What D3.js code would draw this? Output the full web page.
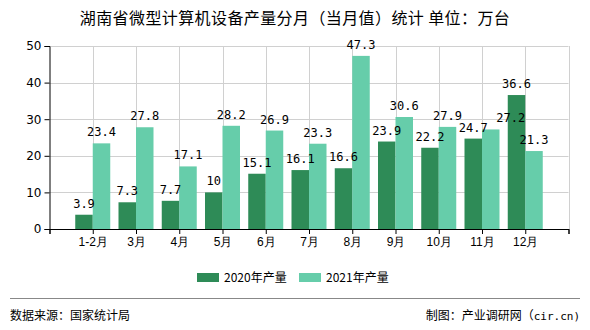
<!DOCTYPE html>
<html><head><meta charset="utf-8">
<script src="https://cdn.jsdelivr.net/npm/d3@7/dist/d3.min.js"></script>
<style>body{margin:0;background:#fff;}svg{display:block;font-family:"Noto Sans CJK SC","DejaVu Sans",sans-serif;}</style>
</head><body><svg id="c" width="590" height="330"></svg>
<script>
const categories = ["1-2月","3月","4月","5月","6月","7月","8月","9月","10月","11月","12月"];
const series2020 = [3.9,7.3,7.7,10,15.1,16.1,16.6,23.9,22.2,24.7,36.6];
const series2021 = [23.4,27.8,17.1,28.2,26.9,23.3,47.3,30.6,27.9,27.2,21.3];
const yTicks = [0,10,20,30,40,50];
const seriesNames = ["2020年产量","2021年产量"];
const colors = ["#2e8b57","#66cdaa"];

const svg = d3.select("#c");
const L=49.5, R=568.5, T=46, B=229;
const x = d3.scaleLinear().domain([0, categories.length+1]).range([L,R]);
const y = d3.scaleLinear().domain([0,50]).range([B,T]);
const bw = 17.5;

// title
svg.append("text").attr("x",295).attr("y",24).attr("text-anchor","middle")
  .attr("font-size",16).attr("letter-spacing",0.4).attr("fill","#000").text("湖南省微型计算机设备产量分月（当月值）统计 单位：万台");

// grid
const g = svg.append("g");
g.selectAll(".hg").data(yTicks.slice(1)).enter().append("line")
  .attr("x1",L).attr("x2",R).attr("y1",d=>Math.round(y(d))+0.5).attr("y2",d=>Math.round(y(d))+0.5)
  .attr("stroke","#d0d0d0");
g.selectAll(".vg").data(d3.range(1,categories.length+2)).enter().append("line")
  .attr("x1",d=>Math.round(x(d))+0.5).attr("x2",d=>Math.round(x(d))+0.5).attr("y1",T).attr("y2",B)
  .attr("stroke","#d0d0d0");

// bars
const data = categories.map((c,i)=>({c,i,v:[series2020[i],series2021[i]]}));
data.forEach(d=>{
  d.v.forEach((v,s)=>{
    const cx = x(d.i+1);
    const x0 = s===0 ? cx-bw : cx;
    svg.append("rect").attr("x",x0).attr("width",bw).attr("y",y(v)).attr("height",y(0)-y(v))
      .attr("fill",colors[s]);
  });
});
// labels
const shift = {"9-1":20};
data.forEach(d=>{
  d.v.forEach((v,s)=>{
    const cx = x(d.i+1) + (s===0 ? -bw/2 : bw/2) + (shift[d.i+"-"+s]||0);
    svg.append("text").attr("x",cx).attr("y",y(v)-7).attr("text-anchor","middle")
      .attr("font-size",12).attr("font-family","'DejaVu Sans Mono',monospace").attr("fill","#000").text(v);
  });
});

// axes
const yAxis = d3.axisLeft(y).tickValues(yTicks).tickSize(5).tickPadding(3);
const ya = svg.append("g").attr("transform",`translate(${L},0)`).call(yAxis);
ya.selectAll("text").attr("font-size",12).attr("fill","#000").attr("font-family","'DejaVu Sans',sans-serif");
ya.select(".domain").attr("stroke","#000");
const xAxis = d3.axisBottom(x).tickValues(d3.range(0,categories.length+2)).tickSize(5).tickPadding(3)
  .tickFormat(d=>categories[d-1]||"");
const xa = svg.append("g").attr("transform",`translate(0,${B})`).call(xAxis);
xa.selectAll("text").attr("font-size",12).attr("fill","#000");
xa.select(".domain").attr("stroke","#000");
xa.selectAll(".tick line").attr("stroke","#000");

// legend
const lx=[197,299];
seriesNames.forEach((n,i)=>{
  svg.append("rect").attr("x",lx[i]).attr("y",273).attr("width",22).attr("height",9).attr("fill",colors[i]);
  svg.append("text").attr("x",lx[i]+27).attr("y",282).attr("font-size",12).attr("fill","#000").text(n);
});

// footer
svg.append("line").attr("x1",10).attr("x2",580).attr("y1",298.5).attr("y2",298.5).attr("stroke","#888");
svg.append("text").attr("x",10).attr("y",320).attr("font-size",12).attr("fill","#000").text("数据来源：国家统计局");
const ft = svg.append("text").attr("x",580).attr("y",320).attr("font-size",12).attr("text-anchor","end").attr("fill","#000");
ft.append("tspan").text("制图：产业调研网（");
ft.append("tspan").attr("font-family","'DejaVu Sans Mono',monospace").attr("font-size",11).text("cir.cn)");
</script></body></html>
